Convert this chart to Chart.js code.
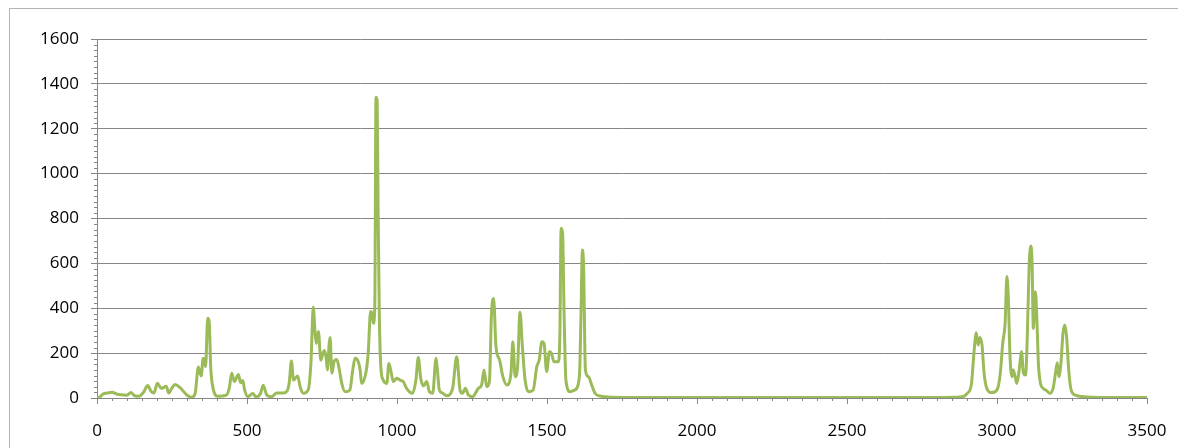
<!DOCTYPE html>
<html>
<head>
<meta charset="utf-8">
<title>Spectrum</title>
<script src="https://cdn.jsdelivr.net/npm/chart.js@4.4.1/dist/chart.umd.min.js"></script>
<style>
    html, body { margin: 0; padding: 0; background: #fff; overflow: hidden; }
    #frame { position: absolute; left: 9px; top: 8px; width: 1200px; height: 470px; border: 1px solid #b4b4b4; }
    #wrap { position: absolute; left: 0; top: 0; width: 1178px; height: 448px; }
</style>
</head>
<body>
<div id="frame"></div>
<div id="wrap"><canvas id="spectrum" width="1178" height="448"></canvas></div>
<script>
// x positions (cm-1) and intensities
const wavenumbers = [
    0, 10, 20, 35, 50, 65, 80, 100, 113, 125, 140, 155, 169, 180, 190, 201, 214, 231, 239, 250,
    260, 277, 299, 316, 327, 338, 347, 354, 362, 369, 374, 379, 387, 403, 431, 441, 449, 458, 471, 479,
    486, 492, 503, 519, 530, 545, 554, 566, 583, 599, 621, 636, 641, 648, 655, 661, 669, 677, 688, 704,
    713, 721, 727, 731, 738, 746, 753, 758, 764, 768, 774, 777, 783, 790, 799, 808, 816, 827, 843, 852,
    860, 871, 877, 882, 897, 904, 912, 917, 921, 926, 930, 934, 937, 941, 946, 954, 966, 973, 979, 988,
    999, 1010, 1021, 1032, 1052, 1063, 1071, 1079, 1088, 1099, 1108, 1119, 1130, 1135, 1141, 1153, 1165, 1185, 1199, 1210,
    1218, 1228, 1238, 1252, 1271, 1282, 1290, 1299, 1308, 1315, 1322, 1330, 1342, 1353, 1366, 1380, 1386, 1394, 1402, 1410,
    1418, 1427, 1438, 1454, 1466, 1474, 1483, 1490, 1499, 1508, 1515, 1523, 1538, 1543, 1547, 1552, 1557, 1563, 1577, 1593,
    1608, 1613, 1618, 1622, 1628, 1638, 1649, 1660, 1677, 1721, 1800, 2000, 2200, 2400, 2600, 2800, 2877, 2901, 2915, 2923,
    2931, 2937, 2943, 2950, 2957, 2966, 2983, 3000, 3011, 3019, 3027, 3033, 3038, 3043, 3050, 3054, 3060, 3066, 3074, 3082,
    3088, 3095, 3101, 3107, 3113, 3117, 3121, 3124, 3128, 3133, 3138, 3145, 3154, 3165, 3176, 3187, 3195, 3201, 3206, 3213,
    3220, 3226, 3232, 3239, 3247, 3261, 3300, 3400, 3500
];
const intensities = [
    0, 5, 18, 22, 26, 18, 14, 12, 25, 10, 8, 25, 56, 30, 22, 66, 43, 52, 22, 45,
    60, 46, 14, 3, 20, 138, 98, 177, 140, 355, 340, 140, 43, 8, 13, 45, 110, 73, 105, 68,
    78, 36, 6, 20, 5, 20, 57, 13, 6, 22, 22, 38, 70, 165, 80, 88, 98, 50, 21, 36,
    154, 404, 288, 243, 296, 169, 200, 212, 177, 125, 243, 270, 110, 162, 172, 125, 65, 28, 36, 120,
    177, 162, 125, 65, 118, 200, 385, 377, 333, 407, 1340, 1320, 837, 377, 140, 80, 65, 154, 125, 73,
    88, 80, 73, 43, 21, 80, 181, 88, 54, 73, 28, 21, 177, 120, 36, 21, 10, 40, 184, 36,
    21, 43, 13, 6, 43, 58, 125, 51, 73, 377, 444, 229, 169, 95, 58, 110, 251, 95, 140, 382,
    229, 80, 28, 36, 140, 169, 251, 244, 118, 206, 199, 162, 162, 288, 756, 734, 377, 80, 28, 36,
    95, 348, 660, 585, 125, 95, 58, 21, 9, 3, 2, 2, 2, 2, 2, 2, 4, 21, 65, 199,
    291, 236, 270, 236, 110, 43, 24, 36, 110, 243, 333, 541, 437, 199, 95, 125, 98, 65, 125, 206,
    110, 102, 273, 585, 677, 600, 310, 377, 474, 348, 154, 65, 43, 33, 21, 43, 110, 157, 95, 154,
    288, 325, 273, 125, 36, 13, 5, 2, 2
];

const xMin = 0, xMax = 3500, xMajor = 500, xMinor = 50;
const yMin = 0, yMax = 1600, yMajor = 200, yMinor = 25;

const axisGray = "#868686";
const lineGreen = "#9BBB59";

const points = wavenumbers.map((x, i) => ({ x: x, y: intensities[i] }));

// small minor tick marks, like the spreadsheet axis
const minorTicks = {
    id: "minorTicks",
    afterDraw(chart) {
        const ctx = chart.ctx;
        const xs = chart.scales.x;
        const ys = chart.scales.y;
        const area = chart.chartArea;
        ctx.save();
        ctx.strokeStyle = axisGray;
        ctx.lineWidth = 1;
        ctx.beginPath();
        for (let v = xMin; v <= xMax; v += xMinor) {
            if (v % xMajor === 0) continue;
            const px = Math.round(xs.getPixelForValue(v)) + 0.5;
            ctx.moveTo(px, area.bottom);
            ctx.lineTo(px, area.bottom + 3);
        }
        for (let v = yMin; v <= yMax; v += yMinor) {
            if (v % yMajor === 0) continue;
            const py = Math.round(ys.getPixelForValue(v)) + 0.5;
            ctx.moveTo(area.left - 3, py);
            ctx.lineTo(area.left, py);
        }
        ctx.stroke();
        ctx.restore();
    }
};

new Chart(document.getElementById("spectrum"), {
    type: "line",
    data: {
        datasets: [{
            data: points,
            borderColor: lineGreen,
            borderWidth: 3,
            pointRadius: 0,
            fill: false,
            cubicInterpolationMode: "monotone"
        }]
    },
    options: {
        responsive: false,
        animation: false,
        layout: { padding: { left: 0, top: 39, right: 31, bottom: 0 } },
        plugins: {
            legend: { display: false },
            tooltip: { enabled: false }
        },
        scales: {
            x: {
                type: "linear",
                min: xMin,
                max: xMax,
                afterFit: function (scale) {
                    scale.height = 50;
                    scale.paddingLeft = 0;
                    scale.paddingRight = 0;
                },
                ticks: {
                    stepSize: xMajor,
                    color: "#000",
                    padding: 17,
                    maxRotation: 0,
                    font: { family: "'Open Sans'", size: 17 },
                    callback: function (value) { return String(value); }
                },
                grid: {
                    drawOnChartArea: false,
                    drawTicks: true,
                    tickLength: 6,
                    tickColor: axisGray
                },
                border: { display: true, color: axisGray, width: 1 }
            },
            y: {
                min: yMin,
                max: yMax,
                afterFit: function (scale) {
                    scale.width = 97;
                    scale.paddingTop = 0;
                    scale.paddingBottom = 0;
                },
                ticks: {
                    stepSize: yMajor,
                    color: "#000",
                    padding: 12,
                    font: { family: "'Open Sans'", size: 17 },
                    callback: function (value) { return String(value); }
                },
                grid: {
                    color: axisGray,
                    lineWidth: 1,
                    drawTicks: true,
                    tickLength: 6,
                    tickColor: axisGray
                },
                border: { display: true, color: axisGray, width: 1 }
            }
        }
    },
    plugins: [minorTicks]
});
</script>
</body>
</html>
